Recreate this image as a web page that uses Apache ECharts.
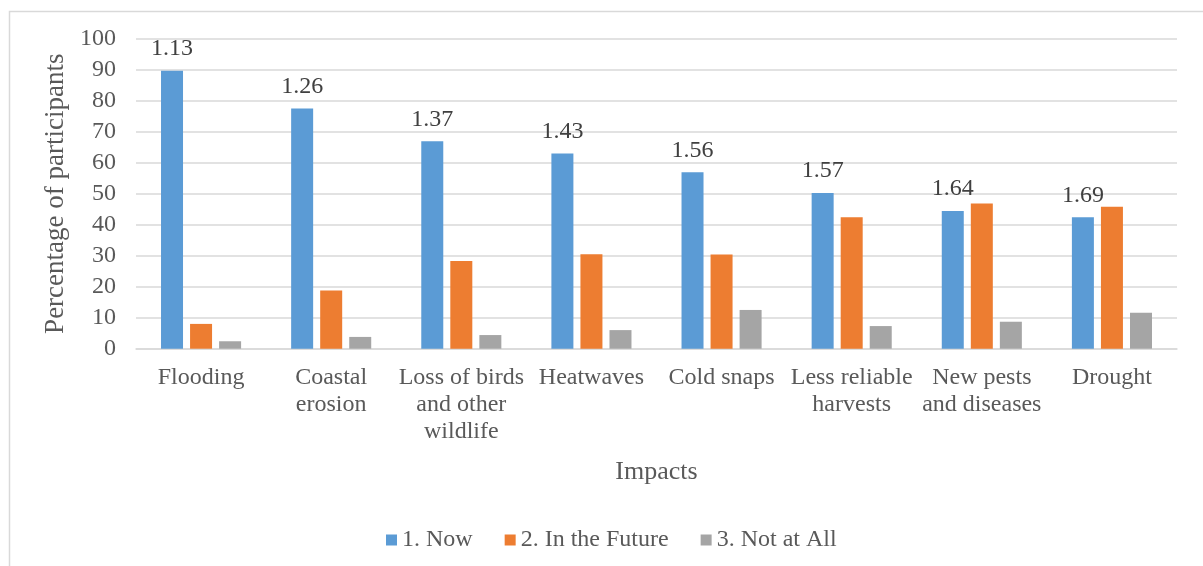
<!DOCTYPE html>
<html>
<head>
<meta charset="utf-8">
<title>Impacts</title>
<script src="https://cdn.jsdelivr.net/npm/echarts@6/dist/echarts.min.js"></script>
<style>
  html, body { margin: 0; padding: 0; background: #ffffff; }
  #chart { width: 1203px; height: 566px; }
</style>
</head>
<body>
<div id="chart"></div>
<script>
// Impact categories along the x axis
const categories = [
  'Flooding',
  'Coastal\nerosion',
  'Loss of birds\nand other\nwildlife',
  'Heatwaves',
  'Cold snaps',
  'Less reliable\nharvests',
  'New pests\nand diseases',
  'Drought'
];

// Percentage of participants per response
const nowValues = [89.7, 77.5, 66.9, 63.0, 56.9, 50.2, 44.4, 42.4];
const futureValues = [8.0, 18.8, 28.3, 30.5, 30.4, 42.4, 46.8, 45.8];
const notAtAllValues = [2.4, 3.8, 4.4, 6.0, 12.5, 7.3, 8.7, 11.6];

// Mean response score shown above each group
const meanScores = ['1.13', '1.26', '1.37', '1.43', '1.56', '1.57', '1.64', '1.69'];

// Y axis range
const yMin = 0;
const yMax = 100;
const yStep = 10;

const FONT = '"Liberation Serif", "Times New Roman", serif';
const TEXT = '#595959';

const chart = echarts.init(document.getElementById('chart'), null, { renderer: 'canvas' });

chart.setOption({
  backgroundColor: '#ffffff',
  animation: false,
  textStyle: { fontFamily: FONT },
  graphic: [{
    type: 'rect',
    left: 7,
    top: 9,
    shape: { x: 0, y: 0, width: 1300, height: 700 },
    style: { fill: 'none', stroke: '#d9d9d9', lineWidth: 1.5 },
    silent: true
  }],
  grid: {
    left: 136,
    right: 26,
    top: 38.7,
    bottom: 217.3,
    containLabel: false
  },
  legend: {
    left: 381,
    top: 523,
    itemWidth: 11,
    itemHeight: 11,
    itemGap: 32,
    icon: 'rect',
    textStyle: { fontFamily: FONT, fontSize: 24, color: TEXT },
    data: ['1. Now', '2. In the Future', '3. Not at All']
  },
  xAxis: {
    type: 'category',
    data: categories,
    name: 'Impacts',
    nameLocation: 'middle',
    nameGap: 110,
    nameTextStyle: { fontFamily: FONT, fontSize: 26, color: TEXT },
    axisLine: { show: true, lineStyle: { color: '#d9d9d9', width: 1.5 } },
    axisTick: { show: false },
    axisLabel: {
      interval: 0,
      margin: 16,
      fontFamily: FONT,
      fontSize: 24,
      lineHeight: 27,
      color: TEXT
    }
  },
  yAxis: {
    type: 'value',
    min: yMin,
    max: yMax,
    interval: yStep,
    name: 'Percentage of participants',
    nameLocation: 'middle',
    nameGap: 66,
    nameTextStyle: { fontFamily: FONT, fontSize: 27, color: TEXT },
    axisLine: { show: false },
    axisTick: { show: false },
    axisLabel: { margin: 20, fontFamily: FONT, fontSize: 24, color: TEXT },
    splitLine: { lineStyle: { color: '#d9d9d9', width: 1.5 } }
  },
  series: [
    {
      name: '1. Now',
      type: 'bar',
      data: nowValues,
      barWidth: 22,
      barGap: '32%',
      itemStyle: { color: '#5B9BD5' },
      label: {
        show: true,
        position: 'top',
        distance: 10,
        fontFamily: FONT,
        fontSize: 24,
        color: '#404040',
        formatter: p => meanScores[p.dataIndex]
      }
    },
    {
      name: '2. In the Future',
      type: 'bar',
      data: futureValues,
      barWidth: 22,
      barGap: '32%',
      itemStyle: { color: '#ED7D31' }
    },
    {
      name: '3. Not at All',
      type: 'bar',
      data: notAtAllValues,
      barWidth: 22,
      barGap: '32%',
      itemStyle: { color: '#A5A5A5' }
    }
  ]
});
</script>
</body>
</html>
